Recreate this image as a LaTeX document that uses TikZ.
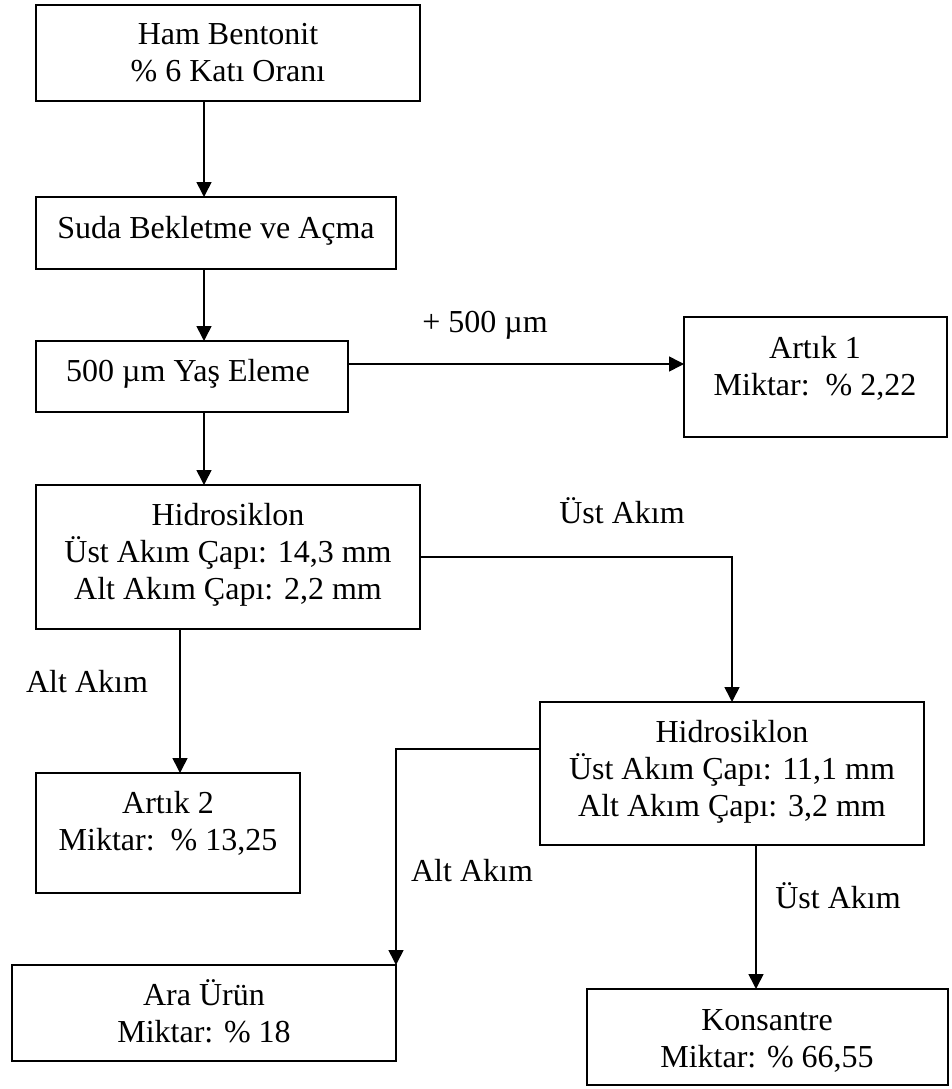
\documentclass[tikz,border=0pt]{standalone}
\usepackage{fontspec}
\setmainfont{Liberation Serif}
\usetikzlibrary{arrows.meta}
% centred lines whose baseline is that of the first line
\newcommand{\txtlines}[1]{\begin{tabular}[t]{@{}c@{}}#1\end{tabular}}
\begin{document}
\begin{tikzpicture}[x=1pt,y=-1pt,
  box/.style={draw, line width=1.6pt, inner sep=0pt, outer sep=0pt},
  txt/.style={anchor=base, inner sep=0pt, font=\fontsize{32}{37}\selectfont},
  flow/.style={line width=1.6pt, -{Triangle[length=15pt,width=15pt]}}
]
\useasboundingbox (0,0) rectangle (951,1089);

% process boxes
\node[box, minimum width=384pt, minimum height=96pt]  (b1)  at (228,53)    {};
\node[box, minimum width=360pt, minimum height=72pt]  (b2)  at (216,233)   {};
\node[box, minimum width=312pt, minimum height=71pt]  (b3)  at (192,376.5) {};
\node[box, minimum width=263pt, minimum height=120pt] (a1)  at (815.5,377) {};
\node[box, minimum width=384pt, minimum height=144pt] (h1)  at (228,557)   {};
\node[box, minimum width=264pt, minimum height=120pt] (a2)  at (168,833)   {};
\node[box, minimum width=384pt, minimum height=143pt] (h2)  at (732,773.5) {};
\node[box, minimum width=384pt, minimum height=96pt]  (ara) at (204,1013)  {};
\node[box, minimum width=361pt, minimum height=96pt]  (kon) at (767.5,1037){};

% box texts
\node[txt] (b1t)  at (228,45)   {\txtlines{Ham Bentonit\\\% 6 Katı Oranı}};
\node[txt] (b2t)  at (216,238)  {Suda Bekletme ve Açma};
\node[txt] (b3t)  at (188,381)  {500 µm Yaş Eleme};
\node[txt] (a1t)  at (815,358)  {\txtlines{Artık 1\\Miktar:\ \ \% 2,22}};
\node[txt] (h1t)  at (228,525)  {\txtlines{Hidrosiklon\\Üst Akım Çapı: 14,3 mm\\Alt Akım Çapı: 2,2 mm}};
\node[txt] (a2t)  at (168,813)  {\txtlines{Artık 2\\Miktar:\ \ \% 13,25}};
\node[txt] (h2t)  at (732,742)  {\txtlines{Hidrosiklon\\Üst Akım Çapı: 11,1 mm\\Alt Akım Çapı: 3,2 mm}};
\node[txt] (arat) at (204,1005) {\txtlines{Ara Ürün\\Miktar: \% 18}};
\node[txt] (kont) at (767,1030) {\txtlines{Konsantre\\Miktar: \% 66,55}};

% stream labels
\node[txt] (l1) at (485,332) {+ 500 µm};
\node[txt] (l2) at (622,523) {Üst Akım};
\node[txt] (l3) at (87,692)  {Alt Akım};
\node[txt] (l4) at (472,881) {Alt Akım};
\node[txt] (l5) at (838,908) {Üst Akım};

% guide coordinates for the connector lines
\coordinate (ax) at (204,0);
\coordinate (bx) at (180,0);
\coordinate (dx) at (756,0);
\coordinate (ay) at (0,364);
\coordinate (cy) at (0,749);

% connectors
\draw[flow] (b1.south -| ax) -- (b2.north -| ax);
\draw[flow] (b2.south -| ax) -- (b3.north -| ax);
\draw[flow] (b3.south -| ax) -- (h1.north -| ax);
\draw[flow] (b3.east |- ay) -- (a1.west |- ay);
\draw[flow] (h1.east) -| (h2.north);
\draw[flow] (h1.south -| bx) -- (a2.north -| bx);
\draw[flow] (h2.west |- cy) -| (ara.north east);
\draw[flow] (h2.south -| dx) -- (kon.north -| dx);
\end{tikzpicture}
\end{document}
